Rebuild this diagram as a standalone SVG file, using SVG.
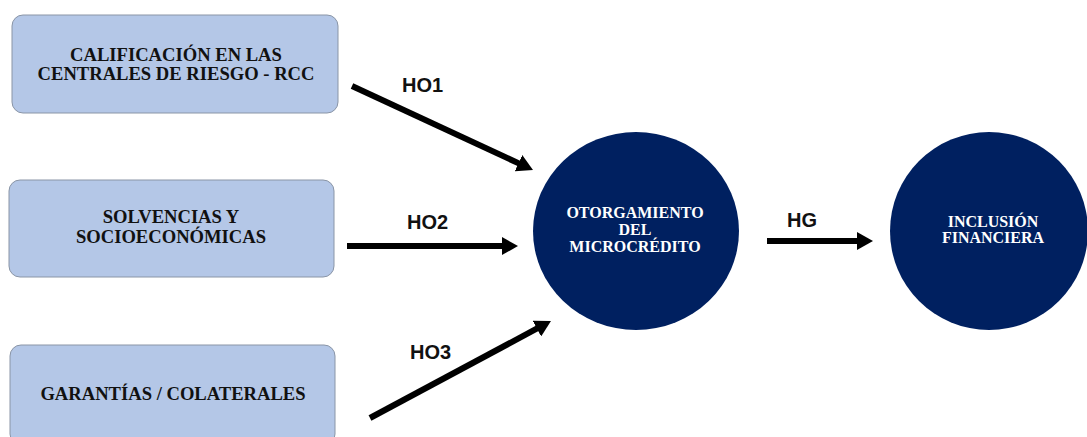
<svg xmlns="http://www.w3.org/2000/svg" width="1087" height="437" viewBox="0 0 1087 437">
<defs>
<style>
.box{fill:#b4c7e7;stroke:#8a95a6;stroke-width:1}
.circ{fill:#002060}
.bt{font-family:"Liberation Serif","Times New Roman",serif;font-weight:bold;font-size:18.6px;fill:#111;text-anchor:middle}
.ct{font-family:"Liberation Serif","Times New Roman",serif;font-weight:bold;font-size:16px;fill:#fff;text-anchor:middle}
.lbl{font-family:"Liberation Sans",Arial,sans-serif;font-weight:bold;font-size:20px;fill:#111}
.arr{stroke:#000;stroke-width:6;fill:none;marker-end:url(#ah)}
</style>
<marker id="ah" viewBox="0 0 16 18" refX="4" refY="9" markerWidth="16" markerHeight="18" markerUnits="userSpaceOnUse" orient="auto">
<path d="M0,0 L16,9 L0,18 z" fill="#000"/>
</marker>
</defs>
<g id="node-rcc">
<rect class="box" x="12" y="15" width="326" height="98" rx="11"/>
<text class="bt" x="176" y="61">CALIFICACIÓN EN LAS</text>
<text class="bt" x="176" y="80">CENTRALES DE RIESGO - RCC</text>
</g>
<g id="node-solvencias">
<rect class="box" x="9" y="180" width="325" height="97" rx="11"/>
<text class="bt" x="171" y="223">SOLVENCIAS Y</text>
<text class="bt" x="171" y="243">SOCIOECONÓMICAS</text>
</g>
<g id="node-garantias">
<rect class="box" x="10" y="345" width="325" height="100" rx="11"/>
<text class="bt" x="173" y="400">GARANTÍAS / COLATERALES</text>
</g>
<g id="node-otorgamiento">
<ellipse class="circ" cx="636" cy="231" rx="103" ry="99"/>
<text class="ct" x="635" y="218">OTORGAMIENTO</text>
<text class="ct" x="635" y="235">DEL</text>
<text class="ct" x="635" y="252">MICROCRÉDITO</text>
</g>
<g id="node-inclusion">
<ellipse class="circ" cx="989" cy="231" rx="99" ry="99"/>
<text class="ct" x="993" y="227">INCLUSIÓN</text>
<text class="ct" x="993" y="243">FINANCIERA</text>
</g>
<g id="connectors">
<line class="arr" x1="352" y1="86" x2="522.1" y2="164.9"/>
<line class="arr" x1="347" y1="246" x2="506" y2="246"/>
<line class="arr" x1="370" y1="418" x2="540.4" y2="326.7"/>
<line class="arr" x1="767" y1="241" x2="861" y2="241"/>
<text class="lbl" x="402" y="92">HO1</text>
<text class="lbl" x="407" y="229">HO2</text>
<text class="lbl" x="410" y="359">HO3</text>
<text class="lbl" x="787" y="227">HG</text>
</g>
</svg>
